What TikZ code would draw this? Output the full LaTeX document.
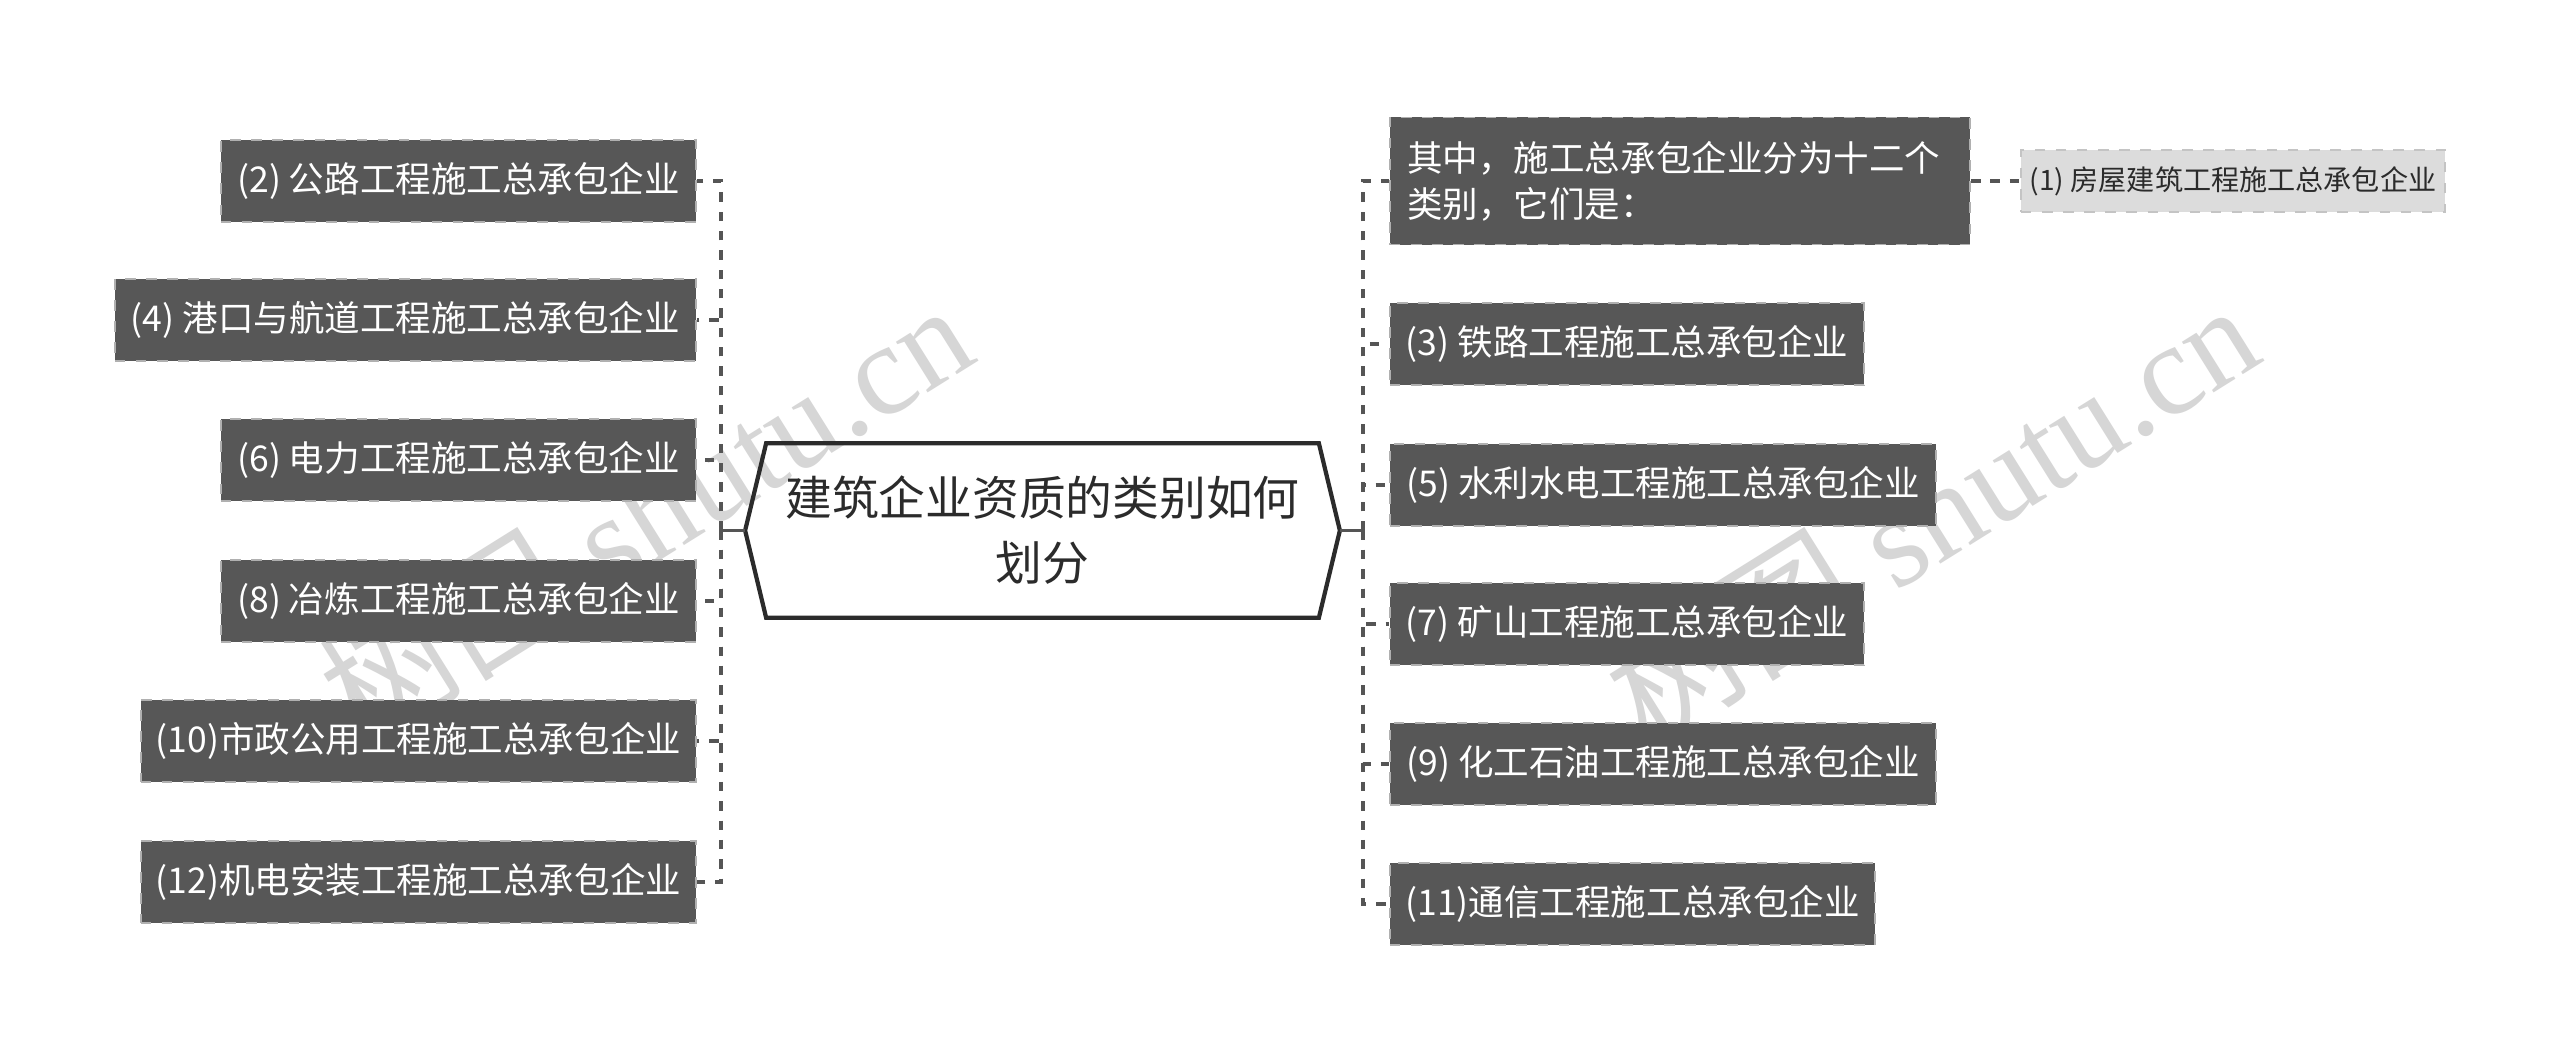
\documentclass[tikz,border=0pt]{standalone}
\usepackage{fontspec}
\newfontfamily\cjk{Noto Sans CJK SC}
\newfontfamily\wmfont{Liberation Serif}
\usetikzlibrary{calc}
\definecolor{leaffill}{HTML}{575757}
\definecolor{leafborder}{HTML}{B0B0B0}
\definecolor{connc}{HTML}{555555}
\definecolor{subfill}{HTML}{DCDCDC}
\definecolor{subborder}{HTML}{C4C4C4}
\definecolor{rootc}{HTML}{2B2B2B}
\definecolor{wmc}{HTML}{D6D6D6}
\tikzset{
  leaf/.style={fill=leaffill, draw=leafborder, dashed, line width=0.5pt,
    text=white, font=\cjk\fontsize{10.1}{13}\selectfont, minimum height=0.82cm,
    inner xsep=0.1cm, inner ysep=0pt, align=center},
  subleaf/.style={fill=subfill, draw=subborder, dashed, line width=0.5pt,
    text=rootc, font=\cjk\fontsize{8}{10}\selectfont, minimum height=0.62cm,
    inner xsep=0.05cm, inner ysep=0pt, align=center},
  rootbox/.style={font=\cjk\fontsize{13.3}{18.5}\selectfont, text=rootc,
    minimum width=5.93cm, minimum height=1.73cm, align=center, inner sep=0pt},
  hexline/.style={draw=rootc, line width=1.2pt, line join=miter},
  conn/.style={draw=connc, line width=1.1pt, dash pattern=on 2.7pt off 2.8pt},
  solidconn/.style={draw=connc, line width=1.1pt},
  wm/.style={text=wmc, font=\wmfont\fontsize{37}{40}\selectfont, rotate=32, inner sep=0pt}
}
\begin{document}
\begin{tikzpicture}[x=0.01cm, y=-0.01cm]
\useasboundingbox (0,0) rectangle (2560,1063);
\fill[white] (0,0) rectangle (2560,1063);

% watermarks
\node[wm] (wm1) at (645,512) {{\cjk 树图} shutu.cn};
\node[wm] (wm2) at (1931,512) {{\cjk 树图} shutu.cn};

% root
\node[rootbox] (root) at (1042.5,530.5) {建筑企业资质的类别如何\\划分};
\draw[hexline] ([xshift=0.21cm]root.north west) -- ([xshift=-0.21cm]root.north east)
  -- (root.east) -- ([xshift=-0.21cm]root.south east) -- ([xshift=0.21cm]root.south west)
  -- (root.west) -- cycle;

\coordinate (busL) at (721,530.5);
\coordinate (busR) at (1363,530.5);

% left nodes
\node[leaf, anchor=east, minimum width=4.75cm] (n2) at (697,181) {(2) 公路工程施工总承包企业};
\node[leaf, anchor=east, minimum width=5.81cm] (n4) at (697,320) {(4) 港口与航道工程施工总承包企业};
\node[leaf, anchor=east, minimum width=4.75cm] (n6) at (697,460) {(6) 电力工程施工总承包企业};
\node[leaf, anchor=east, minimum width=4.75cm] (n8) at (697,601) {(8) 冶炼工程施工总承包企业};
\node[leaf, anchor=east, minimum width=5.55cm] (n10) at (697,741) {(10)市政公用工程施工总承包企业};
\node[leaf, anchor=east, minimum width=5.55cm] (n12) at (697,882) {(12)机电安装工程施工总承包企业};

% right nodes
\node[leaf, anchor=west, minimum width=5.80cm, minimum height=1.27cm, align=left, text width=5.45cm, inner xsep=0.175cm] (top) at (1389,181) {其中，施工总承包企业分为十二个\\类别，它们是：};
\node[leaf, anchor=west, minimum width=4.74cm] (n3) at (1389,344) {(3) 铁路工程施工总承包企业};
\node[leaf, anchor=west, minimum width=5.46cm] (n5) at (1389,485) {(5) 水利水电工程施工总承包企业};
\node[leaf, anchor=west, minimum width=4.74cm] (n7) at (1389,624) {(7) 矿山工程施工总承包企业};
\node[leaf, anchor=west, minimum width=5.46cm] (n9) at (1389,764) {(9) 化工石油工程施工总承包企业};
\node[leaf, anchor=west, minimum width=4.85cm] (n11) at (1389,904) {(11)通信工程施工总承包企业};

\node[subleaf, anchor=west, minimum width=4.24cm] (n1) at (2020,181) {(1) 房屋建筑工程施工总承包企业};

% connectors
\draw[solidconn] (root.west) -- (busL);
\draw[solidconn] (root.east) -- (busR);
\foreach \n in {n2,n4,n6,n8,n10,n12} {\draw[conn] (busL) |- (\n.east);}
\foreach \n in {top,n3,n5,n7,n9,n11} {\draw[conn] (busR) |- (\n.west);}
\draw[conn] (top.east) -- (n1.west);
\end{tikzpicture}
\end{document}
